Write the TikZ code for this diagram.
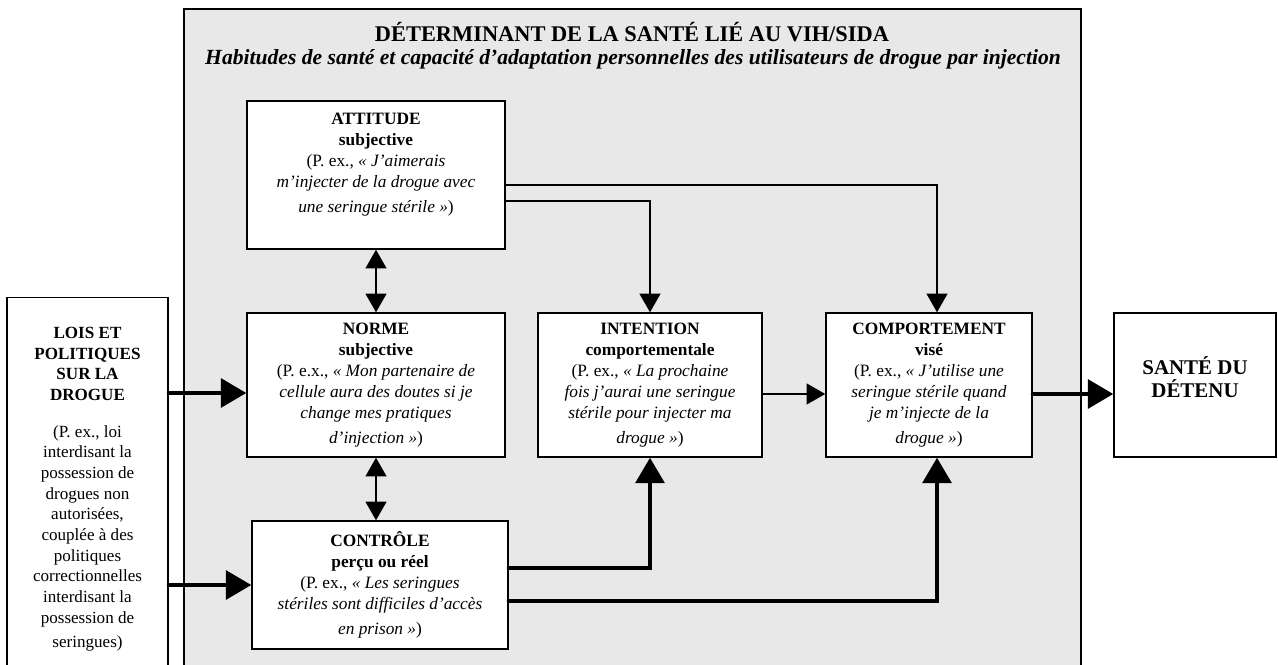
\documentclass[tikz,border=0pt]{standalone}
\usepackage{fontspec}
\setmainfont{Liberation Serif}
\usepackage{xcolor}
\usepackage{tikz}
\usetikzlibrary{arrows.meta,positioning}
\definecolor{inkblack}{HTML}{000000}
\definecolor{panelgray}{HTML}{E8E8E8}
\newcommand{\diagbody}{\fontsize{13}{15.75}\selectfont}
\newcommand{\diaglois}{\fontsize{12.8}{15.5}\selectfont}
\newcommand{\diagtitle}{\fontsize{16.8}{20}\selectfont\bfseries}
\newcommand{\diagsub}{\fontsize{16.2}{19}\selectfont\bfseries\itshape}
\newcommand{\diagbig}{\fontsize{15.7}{17.5}\selectfont\bfseries}

\begin{document}
\begin{tikzpicture}[
  x=0.75pt, y=-0.75pt,
  box/.style={
    draw=inkblack,
    fill=white,
    line width=1.1pt,
    minimum height=108pt,
    align=center,
    inner sep=0pt,
    font=\diagbody
  },
  panel/.style={draw=inkblack,fill=panelgray,line width=1.1pt},
  heading/.style={font=\diagtitle,inner sep=0pt,anchor=base},
  flow/.style={-{Triangle[width=15.75pt,length=14pt]},draw=inkblack,line width=1pt},
  twoway/.style={{Triangle[width=15.75pt,length=14pt]}-{Triangle[width=15.75pt,length=14pt]},draw=inkblack,line width=1pt},
  strong/.style={-{Triangle[width=21.5pt,length=19pt]},draw=inkblack,line width=3pt,line cap=round}
]
  \useasboundingbox (0,0) rectangle (1278,664);
  \draw[panel] (184,9) rectangle (1081,700);

  \node[heading] (title) at (632,41) {DÉTERMINANT DE LA SANTÉ LIÉ AU VIH/SIDA};
  \node[heading,font=\diagsub] (subtitle) at (633,64) {Habitudes de santé et capacité d’adaptation personnelles des utilisateurs de drogue par injection};

  \node[box,minimum width=193.5pt,minimum height=111pt] (attitude) at (376,175)
    {\textbf{ATTITUDE}\\\textbf{subjective}\\(P. ex., \textit{« J’aimerais}\\\textit{m’injecter de la drogue avec}\\[3pt]\textit{une seringue stérile »})\\[2pt]\mbox{}};
  \node[box,minimum width=193.5pt] (norme) at (376,385)
    {\textbf{NORME}\\\textbf{subjective}\\(P. e.x., \textit{« Mon partenaire de}\\\textit{cellule aura des doutes si je}\\\textit{change mes pratiques}\\[3pt]\textit{d’injection »})};
  \node[box,minimum width=168pt] (intention) at (650,385)
    {\textbf{INTENTION}\\\textbf{comportementale}\\(P. ex., \textit{« La prochaine}\\\textit{fois j’aurai une seringue}\\\textit{stérile pour injecter ma}\\[3pt]\textit{drogue »})};
  \node[box,minimum width=154.5pt] (comportement) at (929,385)
    {\textbf{COMPORTEMENT}\\\textbf{visé}\\(P. ex., \textit{« J’utilise une}\\\textit{seringue stérile quand}\\\textit{je m’injecte de la}\\[3pt]\textit{drogue »})};
  \node[box,minimum width=192pt,minimum height=96pt] (controle) at (380,585)
    {\textbf{CONTRÔLE}\\\textbf{perçu ou réel}\\(P. ex., \textit{« Les seringues}\\\textit{stériles sont difficiles d’accès}\\[3pt]\textit{en prison »})};
  \node[box,minimum width=121.5pt,font=\diagbig] (sante) at (1195,385)
    {SANTÉ DU\\DÉTENU\\[-6pt]\mbox{}};
  \node[box,minimum width=120.75pt,minimum height=287.25pt,anchor=north,font=\diaglois] (lois) at (87.5,297)
    {\textbf{LOIS ET}\\\textbf{POLITIQUES}\\\textbf{SUR LA}\\\textbf{DROGUE}\\[12pt]
     (P. ex., loi\\interdisant la\\possession de\\drogues non\\autorisées,\\couplée à des\\politiques\\correctionnelles\\interdisant la\\possession de\\[3pt]seringues)};

  \draw[twoway] (attitude.south) -- (norme.north);
  \draw[twoway] (norme.south) -- (norme.south |- controle.north);
  \draw[flow] (attitude.east |- 0,185) -| (comportement.north -| 937,0);
  \draw[flow] (attitude.east |- 0,201) -| (intention.north);
  \draw[flow] (intention.east |- 0,394) -- (comportement.west |- 0,394);
  \draw[strong] (comportement.east |- 0,394) -- (sante.west |- 0,394);
  \draw[strong] (lois.east |- 0,393) -- (norme.west |- 0,393);
  \draw[strong] (lois.east |- controle.west) -- (controle.west);
  \draw[strong] (controle.east |- 0,568) -| (intention.south);
  \draw[strong] (controle.east |- 0,601) -| (comportement.south -| 937,0);
\end{tikzpicture}
\end{document}
